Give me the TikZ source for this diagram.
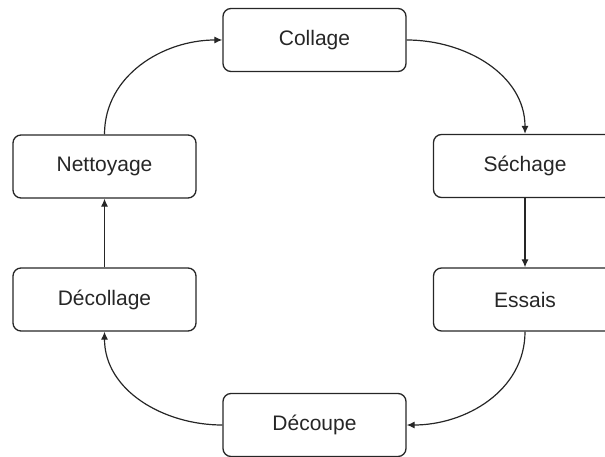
\documentclass[tikz,border=0pt]{standalone}
\usepackage{fontspec}
\setmainfont{Liberation Sans}
\usetikzlibrary{arrows.meta}
\definecolor{ink}{HTML}{262626}
\begin{document}
\begin{tikzpicture}[x=1pt,y=-1pt,
  stepbox/.style={draw=ink,line width=1.3pt,rounded corners=8pt,minimum width=183pt,minimum height=63pt,inner sep=0pt,text=ink,font=\fontsize{21}{24}\selectfont},
  conn/.style={draw=ink,line width=1.2pt,-{Latex[length=8pt,width=7pt]}}]
\clip (0,0) rectangle (605,457);
\node[stepbox] (collage) at (314.5,40) {Collage};
\node[stepbox] (sechage) at (525,166) {Séchage};
\node[stepbox] (essais) at (525,299.5) {Essais};
\node[stepbox] (decoupe) at (314.5,425) {Découpe};
\node[stepbox] (decollage) at (104.5,299.5) {Décollage};
\node[stepbox] (nettoyage) at (104.5,166.5) {Nettoyage};
\draw[conn] (nettoyage.north) to[out=90,in=180] (collage.west);
\draw[conn] (collage.east) to[out=0,in=90] (sechage.north);
\draw[conn] (sechage.south) -- (essais.north);
\draw[conn] (essais.south) to[out=-90,in=0] (decoupe.east);
\draw[conn] (decoupe.west) to[out=180,in=-90] (decollage.south);
\draw[conn] (decollage.north) -- (nettoyage.south);
\end{tikzpicture}
\end{document}
